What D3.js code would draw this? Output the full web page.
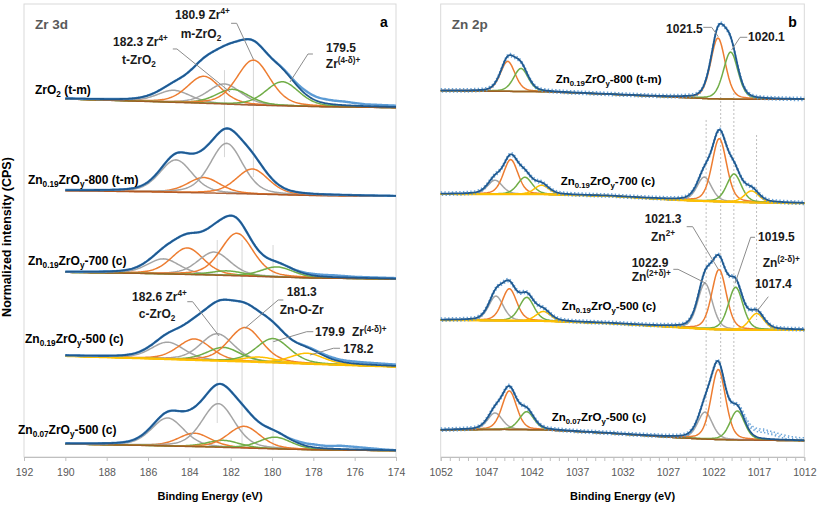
<!DOCTYPE html>
<html><head><meta charset="utf-8">
<script src="https://cdn.jsdelivr.net/npm/d3@7"></script>
<style>
body{margin:0;background:#fff}
svg{display:block}
text{font-family:"Liberation Sans",Arial,sans-serif}
</style>
</head><body>
<svg id="c" width="817" height="505"></svg>
<script>
// ---------------- DATA ----------------
const zrTicks = [192,190,188,186,184,182,180,178,176,174];
const znTicks = [1052,1047,1042,1037,1032,1027,1022,1017,1012];

const zrLabels = [
  [["ZrO"],["2","sub"],[" (t-m)"]],
  [["Zn"],["0.19","sub"],["ZrO"],["y","sub"],["-800 (t-m)"]],
  [["Zn"],["0.19","sub"],["ZrO"],["y","sub"],["-700 (c)"]],
  [["Zn"],["0.19","sub"],["ZrO"],["y","sub"],["-500 (c)"]],
  [["Zn"],["0.07","sub"],["ZrO"],["y","sub"],["-500 (c)"]]
];
const zrLabelPos = [[191.47,80.13],[191.81,60.26],[191.81,42.38],[191.95,25.17],[192.29,5.08]];
const znLabels = [
  [["Zn"],["0.19","sub"],["ZrO"],["y","sub"],["-800 (t-m)"]],
  [["Zn"],["0.19","sub"],["ZrO"],["y","sub"],["-700 (c)"]],
  [["Zn"],["0.19","sub"],["ZrO"],["y","sub"],["-500 (c)"]],
  [["Zn"],["0.07","sub"],["ZrO"],["y","sub"],["-500 (c)"]]
];
const znLabelPos = [[1039.35,82.49],[1038.8,60.04],[1038.69,32.45],[1039.79,8.01]];

// Background (Shirley) points: [binding energy, normalized intensity]
const zrBaselines = [
  [[190,79.03],[186,78.48],[183,78.04],[181,77.70],[178,77.37],[174,77.11]],
  [[190,58.79],[186,58.54],[183,58.28],[181,58.06],[178,57.73],[174,57.55]],
  [[190,40.77],[186,40.51],[183,40.18],[181,39.91],[178,39.51],[174,39.29]],
  [[190,22.30],[186,21.74],[183,21.30],[181,21.02],[178,20.53],[174,19.93]],
  [[190,2.87],[186,2.54],[183,2.21],[181,1.94],[178,1.59],[174,1.39]]
];
// Fitted components: [centre eV, height, component index]
const zrPeaks = [
  [[184.75,2.65,0],[183.3,5.96,1],[182.3,4.42,0],[181.9,3.31,2],[180.9,9.93,1],[179.5,5.30,2]],
  [[184.65,7.17,0],[183.3,3.38,1],[182.2,11.04,0],[180.95,5.52,1]],
  [[185.25,3.31,0],[184.1,5.85,1],[182.8,5.08,0],[182.15,1.02,2],[181.7,9.38,1],[179.75,2.21,2]],
  [[185.05,3.75,0],[183.75,4.64,1],[182.65,5.96,0],[182.35,2.98,2],[181.3,7.51,1],[180.6,1.10,3],[179.95,5.30,2],[178.3,2.32,3]],
  [[185.05,6.18,0],[183.75,2.96,1],[182.6,9.62,0],[182.35,1.55,2],[181.35,4.79,1],[179.85,2.58,2]]
];
const zrFwhm = [1.9,1.85,1.85,1.9,1.85];
// raw data minus envelope, read where it visibly departs
const zrResiduals = [
  [[180,0],[179,0.3],[178.3,0.8],[177.5,0.9],[176.5,0.8],[175.5,0.4],[174,0.3]],
  [],
  [[179,0],[178,0.35],[177,0.4],[176,0.2],[174,0.1]],
  [[179,0],[178,0.2],[177,0.4],[176,0.45],[175,0.4],[174,0.3]],
  [[179.3,0],[178.7,0.4],[178,0.66],[177.3,0.55],[176.7,0.73],[176.1,0.6],[175.4,0.38],[174.5,0.1],[174,0]]
];
const zrRefLines = [[182.3,85.4,66.2],[180.9,88.1,61.8],[182.65,47.9,7.5],[181.45,47.9,3.1],[179.95,46.8,1.5]];
const zrNotes = [
  [187.69,90.73,"start",[["182.3 Zr"],["4+","sup"]]],
  [186.44,86.75,"middle",[["t-ZrO"],["2","sub"]]],
  [184.69,96.69,"start",[["180.9 Zr"],["4+","sup"]]],
  [183.44,92.45,"middle",[["m-ZrO"],["2","sub"]]],
  [176.66,89.40,"middle",[["179.5"]]],
  [176.56,85.87,"middle",[["Zr"],["(4-δ)+","sup"]]],
  [186.77,34.44,"start",[["182.6 Zr"],["4+","sup"]]],
  [185.56,30.62,"middle",[["c-ZrO"],["2","sub"]]],
  [178.56,35.60,"middle",[["181.3"]]],
  [178.56,31.57,"middle",[["Zn-O-Zr"]]],
  [177.92,26.64,"start",[["179.9"]]],
  [176.13,26.64,"start",[["Zr"],["(4-δ)+","sup"]]],
  [176.55,22.89,"start",[["178.2"]]]
];
const zrLeaders = [
  [[184.8,90.07],[184.6,90.07],[182.03,80.57]],
  [[181.98,95.74],[181.71,95.74],[180.9,87.79]],
  [[178.02,88.96],[178.26,88.96],[179.13,82.78]],
  [[184.1,34.28],[183.84,34.28],[182.56,26.71]],
  [[179.45,34.66],[179.7,34.66],[181.31,28.41]],
  [[178.0,27.66],[178.32,27.66],[179.94,25.45]],
  [[176.71,24.0],[177.03,24.0],[178.16,22.52]]
];

const znBaselines = [
  [[1052,80.86],[1040.7,80.64],[1033.4,80.07],[1026,79.40],[1022.4,79.09],[1018.7,78.96],[1012,78.96]],
  [[1052,58.06],[1040.7,58.0],[1033.4,57.62],[1026,56.73],[1022.4,56.45],[1018.7,56.23],[1012,56.0]],
  [[1052,30.24],[1040.7,30.02],[1033.4,29.51],[1026,28.63],[1022.4,28.19],[1018.7,28.04],[1012,28.04]],
  [[1052,5.96],[1045,6.1],[1040.7,6.0],[1033.4,5.23],[1026,4.26],[1022.4,3.91],[1018.7,3.75],[1012,3.6]]
];
const znPeaks = [
  [[1044.63,6.62,1],[1043.17,5.08,2],[1021.5,13.42,1],[1020.1,10.38,2]],
  [[1046.03,3.09,0],[1044.3,7.62,1],[1042.73,3.75,2],[1040.9,1.99,3],[1023.0,5.30,0],[1021.35,13.91,1],[1019.73,6.18,2],[1017.8,2.54,3]],
  [[1045.92,5.41,0],[1044.45,7.06,1],[1042.54,5.19,2],[1040.71,2.12,3],[1022.92,10.09,0],[1021.38,13.25,1],[1019.55,9.40,2],[1017.24,3.64,3]],
  [[1046.03,3.64,0],[1044.45,8.50,1],[1042.54,3.97,2],[1022.92,5.96,0],[1021.46,15.45,1],[1019.37,6.40,2]]
];
const znFwhm = [1.9,1.9,1.9,1.9];
const znResiduals = [
  [],[],[],
  [[1019.5,0],[1018.5,0.9],[1017.5,1.5],[1016.5,1.7],[1015.5,1.3],[1014.5,0.8],[1013.5,0.4],[1012.5,0.2]]
];
const znRefLines = [[1022.8,74.4,6.4],[1021.2,80.35,10.8],[1019.75,80.35,13.7],[1017.25,71.08,30.24]];
const znNotes = [
  [1027.21,93.6,"start",[["1021.5"]]],
  [1018.19,91.77,"start",[["1020.1"]]],
  [1027.54,51.66,"middle",[["1021.3"]]],
  [1027.54,47.75,"middle",[["Zn"],["2+","sup"]]],
  [1017.09,47.62,"start",[["1019.5"]]],
  [1030.99,42.01,"start",[["1022.9"]]],
  [1030.99,38.92,"start",[["Zn"],["(2+δ)+","sup"]]],
  [1016.58,42.01,"start",[["Zn"],["(2-δ)+","sup"]]],
  [1017.42,37.24,"start",[["1017.4"]]]
];
const znLeaders = [
  [[1023.11,94.85],[1022.19,94.85],[1021.46,92.78]],
  [[1018.27,92.65],[1019.07,92.65],[1019.99,89.85]],
  [[1024.94,50.84],[1024.28,50.84],[1021.46,41.43]],
  [[1017.42,48.5],[1017.9,48.5],[1019.62,38.34]],
  [[1026.41,41.43],[1025.89,41.43],[1022.81,38.34]],
  [[1015.96,35.39],[1017.24,32.08]]
];

// ---------------- STYLE / LAYOUT ----------------
const compColors = ["#a5a5a5","#ed7d31","#70ad47","#ffc000"];
const envColor = "#20598f", rawColor = "#5b9bd5", bgColor = "#a4501f";
const LOR = 0.3; // Gaussian-Lorentzian mix GL(30)
function gl(x,c,h,F){const t=(x-c)/F;return h*((1-LOR)*Math.exp(-4*Math.LN2*t*t)+LOR/(1+4*t*t));}

const svg = d3.select("#c");
const yTop = 4, yBot = 457;
const y = d3.scaleLinear().domain([0,100]).range([yBot,yTop]);
const xZr = d3.scaleLinear().domain([192,174]).range([24,396]);
const xZn = d3.scaleLinear().domain([1052,1012]).range([440.7,804.3]);

function rich(sel, segs, size){
  let shift = 0;
  segs.forEach(([s,k])=>{
    const target = k==="sub" ? size*0.25 : k==="sup" ? -size*0.4 : 0;
    const ts = sel.append("tspan").text(s).attr("dy", target-shift);
    if(k) ts.attr("font-size", (size*0.68).toFixed(1));
    shift = target;
  });
}

function panel(o){
  const g = svg.append("g");
  const x = o.x;
  const [x0,x1] = x.range();
  g.append("rect").attr("x",x0).attr("y",yTop).attr("width",x1-x0).attr("height",yBot-yTop)
    .attr("fill","none").attr("stroke","#d9d9d9").attr("stroke-width",1);
  const ax = g.append("g").attr("transform",`translate(0,${yBot})`)
    .call(d3.axisBottom(x).tickValues(o.tickAll).tickSize(4).tickPadding(8)
      .tickFormat(d=>o.ticks.includes(d)?d:""));
  ax.select(".domain").attr("stroke","#bfbfbf");
  ax.selectAll(".tick line").attr("stroke","#bfbfbf");
  ax.selectAll(".tick text").attr("fill","#595959").attr("font-size",10.5).attr("font-family","Liberation Sans, Arial, sans-serif");
  o.refLines.forEach(([e,u0,u1])=>{
    g.append("line").attr("x1",x(e)).attr("x2",x(e)).attr("y1",y(u0)).attr("y2",y(u1))
      .attr("stroke",o.dotted?"#bdbdbd":"#d6d6d6").attr("stroke-width",1)
      .attr("stroke-dasharray",o.dotted?"2,2":null);
  });
  const line = d3.line().x(d=>x(d[0])).y(d=>y(d[1])).curve(d3.curveLinear);
  o.baselines.forEach((b,i)=>{
    const bl = d3.scaleLinear().domain(b.map(d=>d[0])).range(b.map(d=>d[1])).clamp(true);
    const r = o.residuals[i];
    const res = r.length ? d3.scaleLinear().domain(r.map(d=>d[0])).range(r.map(d=>d[1])).clamp(true) : ()=>0;
    const F = o.fwhm[i];
    const pk = o.peaks[i];
    const xs = o.samples;
    pk.forEach(p=>{
      g.append("path").attr("d",line(xs.map(e=>[e,bl(e)+gl(e,p[0],p[1],F)])))
        .attr("fill","none").attr("stroke",compColors[p[2]]).attr("stroke-width",1.5);
    });
    const hasY = pk.some(p=>p[2]===3);
    g.append("path").attr("d",line(xs.map(e=>[e,bl(e)])))
      .attr("fill","none").attr("stroke",hasY?"#ffc000":bgColor).attr("stroke-width",hasY?2.2:1.5)
      .attr("opacity",hasY?0.9:0.85);
    const env = xs.map(e=>[e, bl(e)+d3.sum(pk,p=>gl(e,p[0],p[1],F))]);
    const raw = env.map(([e,v])=>[e, v+res(e)]);
    if(o.dotted){
      [-1.6,0,1.6].forEach((dy,k)=>{
        g.append("path").attr("d",line(raw)).attr("transform",`translate(0,${dy})`)
          .attr("fill","none").attr("stroke",rawColor).attr("stroke-width",1.5)
          .attr("stroke-dasharray",k===1?"1.2,3.1":"1.4,2.3").attr("stroke-dashoffset",k*1.3)
          .attr("opacity",0.9);
      });
    } else {
      g.append("path").attr("d",line(raw)).attr("fill","none").attr("stroke",rawColor).attr("stroke-width",2.4);
    }
    g.append("path").attr("d",line(env)).attr("fill","none").attr("stroke",envColor).attr("stroke-width",1.8);
  });
  o.leaders.forEach(L=>{
    g.append("path").attr("d",line(L)).attr("fill","none").attr("stroke","#8c8c8c").attr("stroke-width",1);
  });
  o.notes.forEach(([e,u,a,segs])=>{
    const t = g.append("text").attr("x",x(e)).attr("y",y(u)).attr("text-anchor",a)
      .attr("font-size",12).attr("font-weight","bold").attr("fill","#1a1a1a");
    rich(t,segs,12);
  });
  o.labels.forEach((segs,i)=>{
    const [e,u] = o.labelPos[i];
    const t = g.append("text").attr("x",x(e)).attr("y",y(u)).attr("font-size",o.labelSize)
      .attr("font-weight","bold").attr("fill","#000");
    rich(t,segs,o.labelSize);
  });
  g.append("text").attr("x",x0+11).attr("y",yTop+25).attr("font-size",13.5).attr("font-weight","bold")
    .attr("fill","#595959").text(o.title);
  g.append("text").attr("x",x1-16).attr("y",yTop+23).attr("font-size",14).attr("font-weight","bold")
    .attr("fill","#000").text(o.letter);
  g.append("text").attr("x",(x0+x1)/2).attr("y",500).attr("text-anchor","middle").attr("font-size",11)
    .attr("font-weight","bold").attr("fill","#000").text("Binding Energy (eV)");
}

panel({x:xZr, ticks:zrTicks, tickAll:zrTicks, refLines:zrRefLines, dotted:false,
  baselines:zrBaselines, peaks:zrPeaks, residuals:zrResiduals, fwhm:zrFwhm,
  samples:d3.range(190,173.99,-0.05), leaders:zrLeaders, notes:zrNotes,
  labels:zrLabels, labelPos:zrLabelPos, labelSize:12, title:"Zr 3d", letter:"a"});
panel({x:xZn, ticks:znTicks, tickAll:d3.range(1052,1011.5,-1), refLines:znRefLines, dotted:true,
  baselines:znBaselines, peaks:znPeaks, residuals:znResiduals, fwhm:znFwhm,
  samples:d3.range(1052,1011.99,-0.1), leaders:znLeaders, notes:znNotes,
  labels:znLabels, labelPos:znLabelPos, labelSize:11.5, title:"Zn 2p", letter:"b"});

svg.append("text").attr("transform","translate(11,237) rotate(-90)").attr("text-anchor","middle")
  .attr("font-size",12.5).attr("font-weight","bold").attr("fill","#000").text("Normalized intensity (CPS)");
</script>
</body></html>
